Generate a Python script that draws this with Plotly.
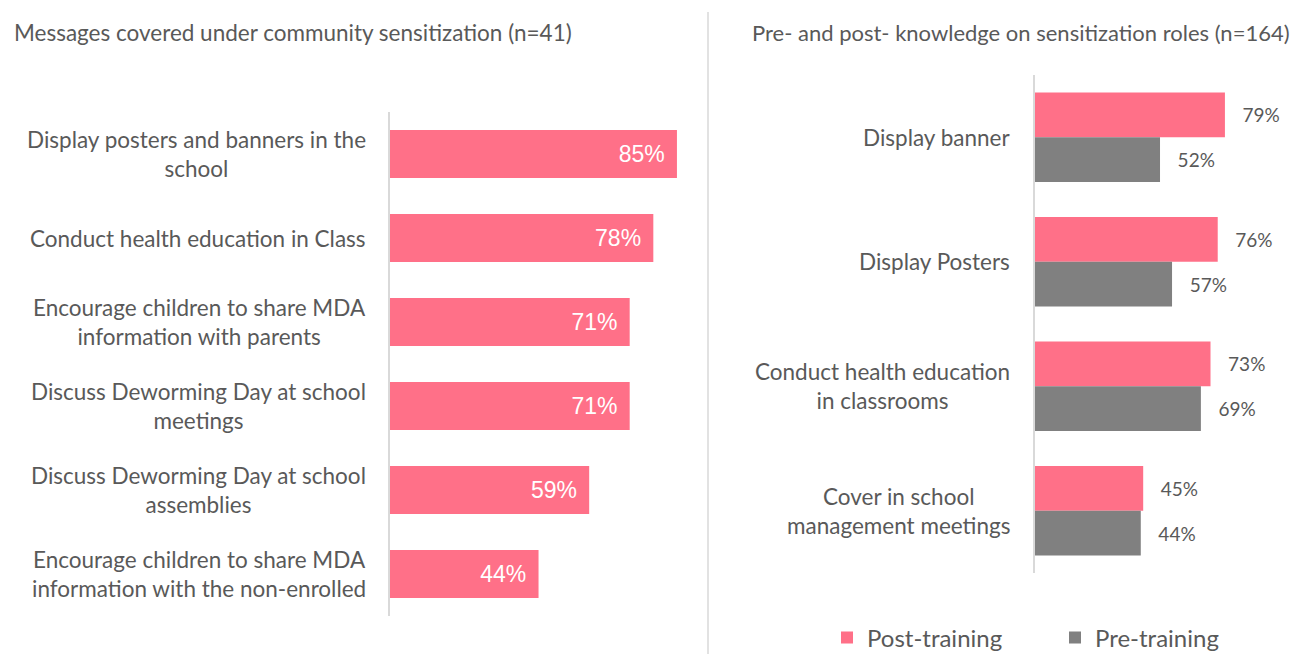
import plotly.graph_objects as go

# left panel: messages covered (n=41)
msg_labels = [
    "Display posters and banners in the<br>school",
    "Conduct health education in Class",
    "Encourage children to share MDA<br>information with parents",
    "Discuss Deworming Day at school<br>meetings",
    "Discuss Deworming Day at school<br>assemblies",
    "Encourage children to share MDA<br>information with the non-enrolled",
]
msg_values = [85, 78, 71, 71, 59, 44]

# right panel: pre / post knowledge (n=164)
role_labels = [
    "Display banner",
    "Display Posters",
    "Conduct health education<br>in classrooms",
    "Cover in school<br>management meetings",
]
post_values = [79, 76, 73, 45]
pre_values = [52, 57, 69, 44]

PINK = "#FF7088"
GREY = "#808080"
TXT = "#595959"
LINE = "#D9D9D9"
FONT = "Lato, sans-serif"

W, H = 1303, 654
OFF = 8  # page body margin


def px(x):
    return (x - OFF) / W


def py(y):
    return 1 - (y - OFF) / H


fig = go.Figure()

fig.add_trace(go.Bar(
    x=msg_values, y=list(range(len(msg_labels))), orientation="h",
    marker=dict(color=PINK, line=dict(width=0)),
    width=0.57,
    text=[f"{v}%\u2009\u2009" for v in msg_values],
    textposition="inside", insidetextanchor="end",
    textfont=dict(color="white", size=23, family="Liberation Sans, Arial, sans-serif"),
    showlegend=False, xaxis="x", yaxis="y", hoverinfo="skip",
))

fig.add_trace(go.Bar(
    x=post_values, y=list(range(len(role_labels))), orientation="h",
    name="Post-training", marker=dict(color=PINK, line=dict(width=0)),
    width=0.36, offset=-0.36,
    text=[f"\u00a0\u00a0\u00a0{v}%" for v in post_values],
    textposition="outside", cliponaxis=False,
    textfont=dict(color=TXT, size=19, family=FONT),
    xaxis="x2", yaxis="y2", hoverinfo="skip",
))
fig.add_trace(go.Bar(
    x=pre_values, y=list(range(len(role_labels))), orientation="h",
    name="Pre-training", marker=dict(color=GREY, line=dict(width=0)),
    width=0.36, offset=0,
    text=[f"\u00a0\u00a0\u00a0{v}%" for v in pre_values],
    textposition="outside", cliponaxis=False,
    textfont=dict(color=TXT, size=19, family=FONT),
    xaxis="x2", yaxis="y2", hoverinfo="skip",
))

annotations = []
for i, lab in enumerate(msg_labels):
    annotations.append(dict(
        x=0, y=i, xref="x", yref="y", text=lab, showarrow=False,
        xanchor="right", xshift=-22, align="center",
        font=dict(size=22.5, color=TXT, family=FONT),
    ))
for i, lab in enumerate(role_labels):
    annotations.append(dict(
        x=0, y=i, xref="x2", yref="y2", text=lab, showarrow=False,
        xanchor="right", xshift=-23, align="center",
        font=dict(size=22.5, color=TXT, family=FONT),
    ))

annotations.append(dict(
    x=px(12), y=py(33), xref="paper", yref="paper", xanchor="left", yanchor="middle",
    text="Messages covered under community sensitization (n=41)", showarrow=False,
    font=dict(size=22.5, color=TXT, family=FONT),
))
annotations.append(dict(
    x=px(750), y=py(33), xref="paper", yref="paper", xanchor="left", yanchor="middle",
    text="Pre- and post- knowledge on sensitization roles (n=164)", showarrow=False,
    font=dict(size=22, color=TXT, family=FONT),
))

fig.update_layout(
    width=W, height=H,
    margin=dict(l=0, r=0, t=0, b=0, autoexpand=False),
    paper_bgcolor="white", plot_bgcolor="white",
    font=dict(family=FONT, color=TXT),
    barmode="overlay",
    xaxis=dict(domain=[px(390), px(707)], range=[0, 93.9], visible=False, fixedrange=True),
    yaxis=dict(domain=[py(616), py(112)], range=[5.5, -0.5], showticklabels=False,
               showgrid=False, zeroline=False, showline=True, linecolor=LINE, linewidth=1.5),
    xaxis2=dict(domain=[px(1035), 1.0], range=[0, 114.8], visible=False, fixedrange=True),
    yaxis2=dict(domain=[py(573), py(75)], range=[3.5, -0.5], showticklabels=False,
                showgrid=False, zeroline=False, showline=True, linecolor=LINE, linewidth=1.5,
                anchor="x2"),
    showlegend=True,
    legend=dict(orientation="h", x=px(827), xanchor="left", y=py(638), yanchor="middle",
                entrywidth=183, entrywidthmode="pixels",
                font=dict(size=24, color=TXT, family=FONT), bgcolor="rgba(0,0,0,0)"),
    annotations=annotations,
    shapes=[dict(type="line", xref="paper", yref="paper", x0=px(708), x1=px(708),
                 y0=0, y1=py(12), line=dict(color=LINE, width=1.5))],
)

fig.write_html("out.html")
